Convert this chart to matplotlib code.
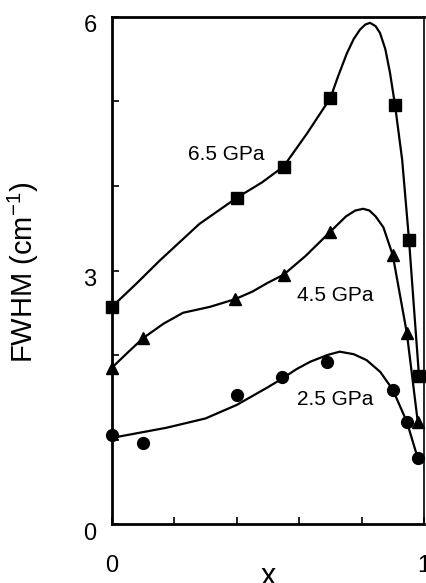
"""FWHM vs composition x at three pressures (recreated scan figure)."""

import matplotlib
matplotlib.use('Agg')
import matplotlib.pyplot as plt
import matplotlib.transforms as mtransforms

# measured points
x_65 = [0.0, 0.40, 0.55, 0.70, 0.907, 0.952, 0.984]
y_65 = [2.57, 3.86, 4.23, 5.04, 4.96, 3.36, 1.75]
x_45 = [0.0, 0.10, 0.394, 0.55, 0.70, 0.90, 0.945, 0.98]
y_45 = [1.85, 2.20, 2.66, 2.95, 3.46, 3.18, 2.26, 1.21]
x_25 = [0.0, 0.10, 0.40, 0.545, 0.69, 0.90, 0.945, 0.98]
y_25 = [1.05, 0.96, 1.53, 1.74, 1.92, 1.59, 1.21, 0.78]

# guide curves
cx_65 = [0.0, 0.08, 0.154, 0.28, 0.40, 0.48, 0.55, 0.625, 0.70, 0.725,
         0.753, 0.775, 0.795, 0.812, 0.827, 0.845, 0.859, 0.876, 0.891,
         0.907, 0.93, 0.952, 0.968, 0.984]
cy_65 = [2.57, 2.85, 3.12, 3.55, 3.86, 4.04, 4.23, 4.62, 5.04, 5.30,
         5.57, 5.74, 5.85, 5.91, 5.93, 5.89, 5.81, 5.62, 5.34,
         4.96, 4.31, 3.36, 2.55, 1.75]
cx_45 = [0.0, 0.048, 0.10, 0.165, 0.228, 0.314, 0.394, 0.45, 0.497, 0.55,
         0.62, 0.70, 0.75, 0.78, 0.805, 0.825, 0.845, 0.87, 0.90, 0.945, 0.98]
cy_45 = [1.85, 2.02, 2.20, 2.37, 2.50, 2.57, 2.66, 2.75, 2.85, 2.95,
         3.17, 3.46, 3.64, 3.71, 3.73, 3.71, 3.64, 3.51, 3.18, 2.26, 1.21]
cx_25 = [0.0, 0.175, 0.30, 0.40, 0.50, 0.545, 0.59, 0.635, 0.69, 0.73,
         0.775, 0.816, 0.86, 0.90, 0.945, 0.98]
cy_25 = [1.02, 1.14, 1.25, 1.41, 1.62, 1.72, 1.83, 1.92, 2.00, 2.04,
         2.01, 1.94, 1.80, 1.59, 1.21, 0.78]

labels = ['6.5 GPa', '4.5 GPa', '2.5 GPa']
label_x = [0.367, 0.715, 0.715]
label_y = [4.37, 2.71, 1.47]

plt.rcParams['font.family'] = ['Liberation Sans', 'DejaVu Sans']
plt.rcParams['mathtext.default'] = 'regular'

fig = plt.figure(figsize=(4.27, 5.83), dpi=100)
ax = fig.add_axes([0.262, 0.101, 0.731, 0.870])

ax.plot(cx_65, cy_65, color='k', lw=1.6)
ax.plot(cx_45, cy_45, color='k', lw=1.6)
ax.plot(cx_25, cy_25, color='k', lw=1.6)
ax.plot(x_65, y_65, ls='none', marker='s', ms=8, color='k', clip_on=False)
ax.plot(x_45, y_45, ls='none', marker='^', ms=8.5, color='k', clip_on=False)
ax.plot(x_25, y_25, ls='none', marker='o', ms=8.5, color='k', clip_on=False)

for lab, lx, ly in zip(labels, label_x, label_y):
    ax.text(lx, ly, lab, fontsize=15, ha='center', va='center')

ax.set_xlim(0, 1)
ax.set_ylim(0, 6)
ax.set_xticks([0, 0.2, 0.4, 0.6, 0.8, 1])
ax.set_xticklabels(['0', '', '', '', '', '1'])
ax.set_yticks([0, 1, 2, 3, 4, 5, 6])
ax.set_yticklabels(['0', '', '', '3', '', '', '6'])
ax.tick_params(axis='x', direction='in', length=5, width=1.2, pad=22,
               labelsize=17)
ax.tick_params(axis='y', direction='in', length=5, width=1.2, pad=11,
               labelsize=17)
# the scanned y labels sit a little below their ticks
shift = mtransforms.ScaledTranslation(0, -5 / 72, fig.dpi_scale_trans)
for lbl in ax.get_yticklabels():
    lbl.set_transform(lbl.get_transform() + shift)
for side in ['left', 'bottom', 'top']:
    ax.spines[side].set_linewidth(2.0)
ax.spines['right'].set_linewidth(1.2)

ax.set_ylabel('FWHM (cm$^{-1}$)', fontsize=21)
ax.yaxis.label.set_va('center')
ax.yaxis.set_label_coords(-0.285, 0.497)
ax.text(0.5, -0.12, 'x', fontsize=22, ha='center', va='baseline',
        transform=ax.transAxes)

fig.savefig('out.png', dpi=100)
